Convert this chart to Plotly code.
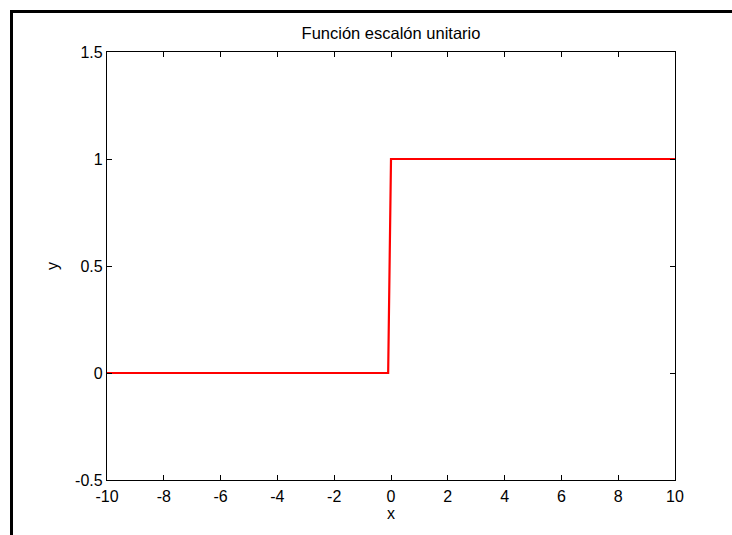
import plotly.graph_objects as go

# Unit step function u(x) sampled on [-10, 10]
x_vals = [-10, -0.1, 0, 10]
y_vals = [0, 0, 1, 1]

x_ticks = [-10, -8, -6, -4, -2, 0, 2, 4, 6, 8, 10]
x_tick_text = ["-10", "-8", "-6", "-4", "-2", "0", "2", "4", "6", "8", "10"]
y_ticks = [-0.5, 0, 0.5, 1, 1.5]
y_tick_text = ["-0.5", "0", "0.5", "1", "1.5"]

W, H = 732, 535
L, R, T, B = 107, 57, 52, 55
pw, ph = W - L - R, H - T - B

font = dict(family="Liberation Sans, Arial, sans-serif", size=16, color="black")

fig = go.Figure()
fig.add_trace(go.Scatter(
    x=x_vals, y=y_vals, mode="lines",
    line=dict(color="#ff0000", width=2.2),
    showlegend=False, hoverinfo="skip",
))

axis_common = dict(
    showline=True, linecolor="black", linewidth=1.2, mirror="allticks",
    ticks="inside", ticklen=5, tickwidth=1, tickcolor="black",
    showgrid=False, zeroline=False, tickfont=font,
)

fig.update_xaxes(range=[-10, 10], tickvals=x_ticks, ticktext=x_tick_text,
                 ticklabelstandoff=2,
                 **axis_common, title=dict(text="x", font=font, standoff=1))
fig.update_yaxes(range=[-0.5, 1.5], tickvals=y_ticks, ticktext=y_tick_text,
                 **axis_common, title=dict(text="y", font=font, standoff=12))

# Outer figure frame (cut off at the right and bottom edges)
def px_x(p):
    return (p - L) / pw

def px_y(p):
    return (H - B - p) / ph

fig.add_shape(type="rect", xref="paper", yref="paper",
              x0=px_x(11.5), x1=px_x(745), y0=px_y(550), y1=px_y(11.5),
              line=dict(color="black", width=3), fillcolor="rgba(0,0,0,0)",
              layer="above")

fig.update_layout(
    width=W, height=H,
    margin=dict(l=L, r=R, t=T, b=B),
    paper_bgcolor="white", plot_bgcolor="white",
    font=font,
    title=dict(text="Función escalón unitario",
               font=dict(family=font["family"], size=16.5, color="black"),
               x=0.5, xref="paper", xanchor="center",
               y=1 - 33 / H, yref="container", yanchor="middle"),
)

fig.write_html("out.html")
